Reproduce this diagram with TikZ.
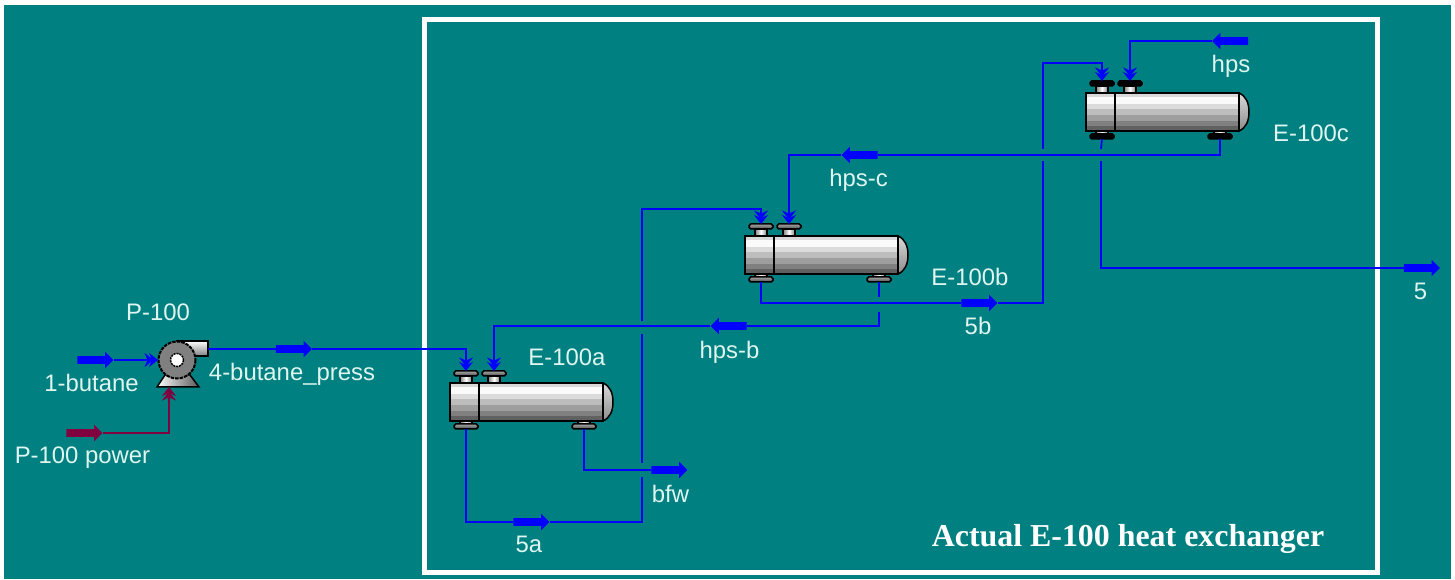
\documentclass[tikz,border=0pt]{standalone}
\usepackage{fontspec}
\setmainfont{Liberation Sans}
\newfontfamily\titlefont{Liberation Serif}
\usetikzlibrary{shapes.arrows, arrows.meta}
\definecolor{sheetteal}{RGB}{0, 128, 128}
\definecolor{matblue}{RGB}{0, 0, 255}
\definecolor{powerred}{RGB}{128, 0, 64}
\definecolor{lbltext}{RGB}{222, 245, 240}
\tikzset{
  x=0.02cm, y=-0.02cm,
  strm/.style={shape=single arrow, fill=#1, draw=none, inner xsep=0pt, inner ysep=0.07cm,
               minimum height=0.72cm, single arrow head extend=0.09cm},
  strm/.default=matblue,
  strmleft/.style={strm, shape border rotate=180},
  pipe/.style={draw=matblue, line width=0.034cm},
  feed/.style={pipe, -{Stealth[length=0.18cm, width=0.28cm, inset=0.06cm, sep=-0.09cm]Stealth[length=0.18cm, width=0.28cm, inset=0.06cm]}},
  powerline/.style={feed, draw=powerred, color=powerred},
  lbl/.style={text=lbltext, inner sep=0pt, font=\fontsize{13.6}{15}\selectfont},
  outline/.style={draw=black, line width=0.03cm},
  greyflange/.style={top color=gray!70, bottom color=black!70},
  blackflange/.style={fill=black},
  pics/exchanger/.style={code={
    % shell bands, top to bottom
    \foreach \ya/\yb/\shade in {0/4/85, 4/11/98, 11/16/86, 16/22/74, 22/28/62, 28/33/50, 33/38/38}
      \fill[white!\shade!black] (0,\ya) rectangle (153,\yb);
    \draw[outline, top color=gray!30, bottom color=gray!90] (153,0) .. controls (160,3) and (163,10) .. (163,19)
            .. controls (163,28) and (160,35) .. (153,38) -- cycle;
    \draw[outline] (0,0) rectangle (153,38);
    \draw[outline] (29,0) -- (29,38);
    % nozzles
    \foreach \xn in {16, 44} {
      \draw[outline, left color=gray, right color=gray, middle color=white] (\xn-6,-7) rectangle (\xn+6,0);
      \draw[outline, #1, rounded corners=1pt] (\xn-12,-12) rectangle (\xn+12,-7);
    }
    \foreach \xn in {16, 134} {
      \draw[outline, left color=gray, right color=gray, middle color=white] (\xn-6,38) rectangle (\xn+6,41);
      \draw[outline, #1, rounded corners=1pt] (\xn-12,41) rectangle (\xn+12,46);
    }
    \coordinate (-t1) at (16,-12);
    \coordinate (-t2) at (44,-12);
    \coordinate (-b1) at (16,46);
    \coordinate (-b2) at (134,46);
  }},
  pics/pump/.style={code={
    \draw[outline, top color=white, bottom color=gray] (0,-19) rectangle (31,-4);
    \draw[outline, left color=white, right color=gray!70!black] (-20,27) -- (-12,15) -- (13,15) -- (22,27) -- cycle;
    \fill[gray] (0,0) circle (18.5);
    \draw[black, line width=0.04cm, dash pattern=on 2pt off 0.6pt] (0,0) circle (18.5);
    \fill[white] (0,0) circle (6.5);
    \draw[black, line width=0.03cm, dash pattern=on 1.2pt off 0.5pt] (0,0) circle (6.5);
    \coordinate (-in) at (-19,0);
    \coordinate (-out) at (31,-11);
    \coordinate (-pw) at (-8,27);
  }},
}
\begin{document}
\begin{tikzpicture}
  \useasboundingbox (0,0) rectangle (1455,580);
  \fill[white] (0,0) rectangle (1455,580);
  \fill[sheetteal] (4,5) rectangle (1451,579);
  \draw[white, line width=0.1cm] (424.5,19.5) rectangle (1377.5,572.5);

  % unit ops
  \pic (P) at (177,360) {pump};
  \pic (Ea) at (450,383) {exchanger=greyflange};
  \pic (Eb) at (745,236) {exchanger=greyflange};
  \pic (Ec) at (1086,93) {exchanger=blackflange};

  % stream arrows
  \node[strm] (butane) at (93.5,360) {};
  \node[strm] (press) at (292,349) {};
  \node[strm=powerred] (power) at (82.5,433) {};
  \node[strm] (s5a) at (529.5,522) {};
  \node[strm] (bfw) at (667.5,470) {};
  \node[strm] (s5b) at (977.5,303) {};
  \node[strm] (s5) at (1420,268) {};
  \node[strmleft] (hpsb) at (730.5,326) {};
  \node[strmleft] (hpsc) at (861.5,155) {};
  \node[strmleft] (hps) at (1232,41) {};

  % pipe breaks where lines cross
  \coordinate (j1a) at (642,477);
  \coordinate (j1b) at (642,463);
  \coordinate (j2a) at (642,334);
  \coordinate (j2b) at (642,321);
  \coordinate (j3a) at (879,297);
  \coordinate (j3b) at (879,312);
  \coordinate (j4a) at (1043,161);
  \coordinate (j4b) at (1043,149);
  \coordinate (j5a) at (1101,149);
  \coordinate (j5b) at (1101,161);

  % connectors
  \draw[feed] (butane.tip) -- (P-in);
  \draw[pipe] (P-out) -- (press.tail);
  \draw[feed] (press.tip) -| (Ea-t1);
  \draw[powerline] (power.tip) -| (P-pw);
  \draw[feed] (hpsb.tip) -| (Ea-t2);
  \draw[pipe] (Ea-b1) |- (s5a.tail);
  \draw[pipe] (s5a.tip) -| (j1a);
  \draw[pipe] (j1b) -- (j2a);
  \draw[feed] (j2b) |- (642,209) -| (Eb-t1);
  \draw[pipe] (Ea-b2) |- (bfw.tail);
  \draw[pipe] (Eb-b1) |- (s5b.tail);
  \draw[pipe] (s5b.tip) -| (j4a);
  \draw[feed] (j4b) |- (1043,63) -| (Ec-t1);
  \draw[pipe] (Eb-b2) -- (j3a);
  \draw[pipe] (j3b) |- (hpsb.tail);
  \draw[pipe] (Ec-b1) -- (j5a);
  \draw[pipe] (j5b) |- (s5.tail);
  \draw[pipe] (Ec-b2) |- (hpsc.tail);
  \draw[feed] (hpsc.tip) -| (Eb-t2);
  \draw[feed] (hps.tip) -| (Ec-t2);

  % labels
  \node[lbl] (lblpump) at (158,312) {P-100};
  \node[lbl] (lblbutane) at (91.5,383) {1-butane};
  \node[lbl] (lblpress) at (292,374) {4-butane\_press};
  \node[lbl] (lblpower) at (82.5,458) {P-100 power};
  \node[lbl] (lblEa) at (567,357) {E-100a};
  \node[lbl] (lbl5a) at (529,544) {5a};
  \node[lbl] (lblbfw) at (670.5,494) {bfw};
  \node[lbl] (lblhpsb) at (729.5,352) {hps-b};
  \node[lbl] (lblEb) at (970,277) {E-100b};
  \node[lbl] (lbl5b) at (978,326) {5b};
  \node[lbl] (lblhpsc) at (858.5,180) {hps-c};
  \node[lbl] (lblEc) at (1311,133) {E-100c};
  \node[lbl] (lblhps) at (1231,66) {hps};
  \node[lbl] (lbl5) at (1420.5,291) {5};
  \node[text=white, inner sep=0pt, font=\titlefont\bfseries\fontsize{18.15}{21}\selectfont] (lbltitle) at (1128,539) {Actual E-100 heat exchanger};
\end{tikzpicture}
\end{document}
